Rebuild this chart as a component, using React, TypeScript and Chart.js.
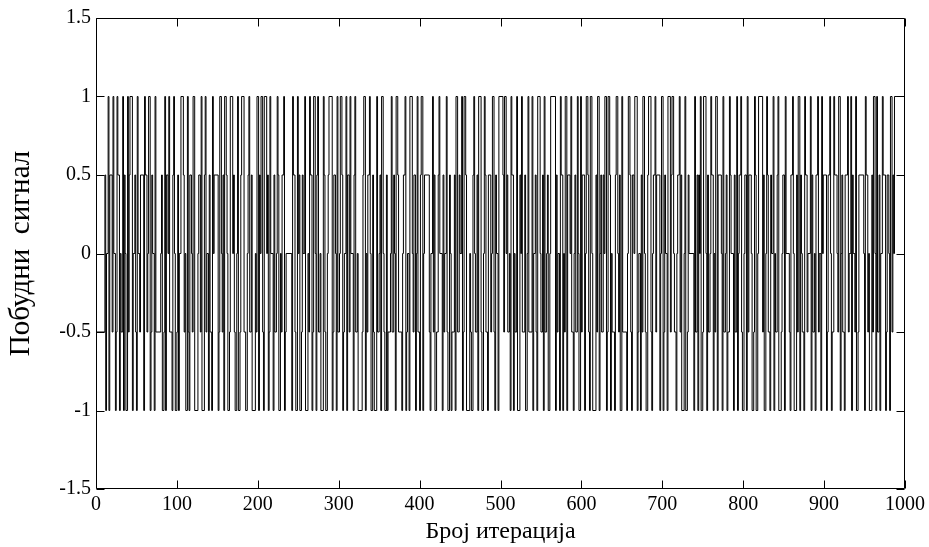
import React, { useEffect, useRef } from "react";
import { Chart, registerables } from "chart.js";

Chart.register(...registerables);

// Axis ticks and titles
const xTickValues = [0, 100, 200, 300, 400, 500, 600, 700, 800, 900, 1000];
const yTickValues = [-1.5, -1, -0.5, 0, 0.5, 1, 1.5];
const xAxisTitle = "Број итерација";
const yAxisTitle = "Побудни  сигнал";
const xMax = 1000;

// Excitation signal: level of each held segment
const levelsPart1 = [
  1, -0.5, 0.5, -1, 0, 1, -1, 0.5, -0.5, 1, 0, -1, -0.5, 1, 0.5, -1, 0, -0.5, 1, -1,
  0.5, 0, -1, 1, -0.5, 0.5, 1, -1, 0, 0.5, -0.5, -1, 1, 0, -0.5, 0.5, -1, 1, 0.5, -0.5,
  0, 1, -1, -0.5, 0.5, 0, -1, 1, -0.5, 0, 0.5, -1, -0.5, 1, -1, 0.5, 0, 1, -0.5, -1,
  0.5, 1, 0, -1, -0.5, 0.5, -1, 0, 1, 0.5, -0.5, 0, -1, 1, -0.5, -1, 0.5, 0, -0.5, 1,
  -1, 0, 0.5, -0.5, 1, -1, 0.5, 1, -0.5, 0, -1, 0.5, -0.5, -1, 1, 0, 0.5, -1, -0.5, 1,
  0, -0.5, 0.5, -1, 1, 0.5, 0, -1, -0.5, 1, 0, 0.5, -0.5, -1, 0, 1, -1, -0.5, 0.5, 1,
  -0.5, -1, 0, 0.5, 1, -0.5, 0.5, -1, 0, -0.5, 1, -1, 0.5, 0, 1, -0.5, -1, 1, 0, 0.5,
];
const levelsPart2 = [
  -1, -0.5, 1, 0, -1, 0.5, -0.5, 0, 1, 0.5, -1, 0, -0.5, 0.5, 1, -1, -0.5, 0, -1, 1,
  0.5, -0.5, -1, 1, 0, 0.5, -1, -0.5, 0.5, 0, 1, -1, 0, -0.5, 1, 0.5, -1, -0.5, 1, 0,
  -1, 0.5, 1, -0.5, 0, -1, 1, 0.5, -0.5, -1, 0, 0.5, 1, -1, -0.5, 0.5, 0, -1, 1, -0.5,
  0, 1, 0.5, -1, -0.5, 0, 1, -1, 0.5, -0.5, 1, 0, -1, 0.5, 1, -0.5, 0, -1, -0.5, 0.5,
  1, -1, 0, -0.5, 0.5, 1, 0, -1, 0.5, -0.5, -1, 1, -0.5, 0, 0.5, -1, 1, 0, -0.5, -1,
  0.5, -1, -0.5, 0, 1, -0.5, 0.5, 0, -1, 1, 0.5, -0.5, -1, 0, 0.5, 1, -1, -0.5, 0, -1,
];
const levelsPart3 = [
  1, 0, -0.5, 0.5, -1, 0, 1, -0.5, -1, 0.5, 1, -1, 0, 0.5, -0.5, -1, 0, 1, -0.5, 0.5,
  -1, -0.5, 0.5, 1, 0, -1, 0.5, -0.5, 0, 1, -0.5, -1, 0.5, 0, -1, -0.5, 0.5, -1, 1, -0.5,
  -0.5, 0.5, 0, 1, -1, -0.5, 1, 0.5, -1, 0, -0.5, -1, 0.5, 1, 0, -0.5, 0.5, -1, 1, -0.5,
  -1, 0, 1, 0.5, -0.5, -1, 0.5, -0.5, 0, 1, -0.5, -1, 0.5, 0, -1, 1, 0.5, -0.5, 1, 0,
  0.5, -0.5, 0, -1, 1, 0.5, -1, 0, -0.5, 1, -1, 0.5, 0, 1, -0.5, -0.5, 0.5, -1, 0, 1,
  -0.5, 1, -1, 0, 0.5, -0.5, -1, 1, 0, -0.5, 0.5, -1, 1, -0.5, 0, 0.5, -1, 0, 1, -1,
];
const levelsPart4 = [
  0.5, -0.5, 0, -1, 1, 0.5, -1, 0, -0.5, 1, -1, 0.5, 0, 1, -0.5, -1, 0, 0.5, -0.5, 1,
  0, -1, 1, -0.5, 0.5, -1, 0, 1, 0.5, -0.5, -1, 1, 0, -1, 0.5, -0.5, 1, -1, 0, 0.5,
  -0.5, 0.5, 0, 1, -1, -0.5, 1, 0.5, -1, 0, -0.5, -1, 0.5, 1, 0, -0.5, 0.5, -1, 1, -0.5,
  -1, 0, 1, 0.5, -0.5, -1, 0.5, 0, 1, -1, -0.5, 0, -1, 0.5, -0.5, 1, 0, -0.5, -1, 0.5,
  1, -0.5, -1, 0, 0.5, 1, -0.5, 0.5, -1, 0, 1, -1, -0.5, 0.5, 0, -1, 1, -0.5, 0.5, 1,
];
const levelsPart5 = [
  0, -0.5, -1, 0, 0.5, 1, -0.5, 0.5, -1, 0, 1, -1, -0.5, 0.5, 0, -1, 1, -0.5, 0.5, -1,
  0.5, 0, 1, -1, -0.5, 1, 0, -1, 0.5, -0.5, 0, 1, 0.5, -1, 0, -0.5, 1, -1, 0.5, 0,
  -1, 1, -0.5, 0, 0.5, -1, -0.5, 1, 0.5, 0, -1, 0.5, -0.5, 1, -1, 0, 0.5, 1, -0.5, -1,
  0, 0.5, -1, 1, -0.5, 0.5, 0, -1, -0.5, 1, 0.5, -1, 0, 1, -0.5, 0.5, -1, 0, 1, 0.5,
  -0.5, -1, 0.5, 0, 1, -1, 0, -0.5, 0.5, 1, -1, -0.5, 0, 0.5, -1, 1, 0, -0.5, -1, 0.5,
  1, 0, -1, 0.5, -0.5, 1, -1, 0.5, 0, -0.5, -1, 1, 0.5, -0.5, 0, 1, -1, 0.5, -0.5, 0,
  -1, 0.5, 1, -0.5, 0, -1, 1, 0, 0.5, -1, -0.5, 0.5, 1, 0, -1, -0.5, 1, 0.5, 0, -0.5,
  1, -1, 0, 0.5, -0.5, -1, 0.5, 1, -0.5, 0, 1, -1, 0.5, 0, -0.5, 1, -1, -0.5, 0.5, 0,
  -1, 1, 0.5, -0.5, 0, -1, 0.5, -0.5, 1, 0, -1, 1, -0.5, 0.5, -1, 0, 1, 0.5, -1, -0.5,
  0.5, 0, -1, 1, -0.5, 0.5, 0, 1, -1, -0.5, 0.5, 1, 0, -1, 0.5, -0.5, 1, -1, 0, 0.5,
];

// Number of iterations each level is held
const lengthsPart1 = [
  11, 1, 1, 2, 1, 1, 3, 1, 1, 2, 1, 1, 1, 2, 1, 1, 2, 1, 1, 1,
  1, 2, 1, 1, 1, 3, 1, 2, 1, 1, 1, 1, 2, 1, 4, 1, 1, 2, 1, 1,
  2, 1, 1, 1, 2, 1, 1, 6, 1, 1, 2, 1, 1, 1, 2, 1, 1, 3, 1, 1,
  1, 1, 2, 1, 1, 1, 2, 3, 1, 1, 1, 2, 1, 1, 1, 2, 1, 1, 2, 4,
  1, 2, 1, 1, 3, 1, 1, 1, 2, 1, 1, 2, 1, 1, 1, 5, 1, 1, 2, 1,
  1, 1, 1, 2, 1, 1, 2, 1, 3, 1, 1, 1, 2, 1, 1, 2, 1, 1, 3, 2,
  2, 1, 1, 1, 2, 1, 4, 1, 1, 2, 1, 1, 1, 2, 1, 1, 3, 1, 1, 1,
  1, 1, 3, 1, 1, 2, 1, 1, 1, 2, 1, 1, 2, 1, 1, 1, 7, 1, 1, 2,
  1, 2, 1, 1, 1, 2, 1, 1, 2, 1, 3, 1, 1, 1, 2, 1, 1, 2, 1, 1,
];
const lengthsPart2 = [
  1, 1, 2, 1, 3, 1, 1, 1, 2, 1, 1, 4, 1, 1, 2, 1, 1, 1, 2, 1,
  2, 1, 1, 1, 2, 1, 1, 2, 1, 1, 3, 1, 1, 1, 2, 1, 5, 1, 1, 2,
  1, 1, 1, 2, 1, 1, 2, 1, 1, 3, 1, 2, 1, 1, 1, 2, 1, 1, 2, 1,
  1, 3, 1, 1, 2, 1, 1, 1, 2, 1, 4, 1, 1, 2, 1, 1, 1, 2, 1, 3,
  1, 1, 2, 1, 1, 1, 2, 1, 1, 2, 1, 1, 6, 1, 1, 2, 1, 1, 1, 2,
  2, 1, 1, 3, 1, 1, 1, 2, 1, 1, 2, 1, 1, 1, 3, 1, 1, 2, 1, 1,
  1, 2, 1, 1, 1, 2, 1, 4, 1, 1, 2, 1, 1, 1, 2, 1, 1, 3, 1, 2,
  1, 1, 1, 2, 1, 3, 1, 1, 2, 1, 1, 1, 2, 1, 5, 1, 1, 2, 1, 1,
  2, 1, 1, 1, 2, 1, 1, 2, 1, 3, 1, 1, 1, 2, 1, 1, 2, 1, 1, 4,
];
const lengthsPart3 = [
  1, 1, 2, 1, 1, 1, 3, 1, 2, 1, 1, 1, 2, 1, 1, 2, 1, 6, 1, 1,
  1, 2, 1, 1, 2, 1, 1, 1, 2, 1, 3, 1, 1, 2, 1, 1, 1, 2, 1, 1,
  2, 1, 1, 3, 1, 1, 2, 1, 1, 1, 2, 1, 4, 1, 1, 2, 1, 1, 1, 2,
  1, 1, 2, 1, 1, 2, 1, 1, 1, 3, 1, 1, 2, 1, 1, 1, 2, 1, 5, 1,
  1, 2, 1, 1, 1, 2, 1, 3, 1, 1, 2, 1, 1, 1, 2, 1, 1, 2, 1, 3,
  1, 1, 1, 2, 1, 1, 4, 1, 1, 2, 1, 1, 1, 2, 1, 3, 1, 1, 2, 1,
  2, 1, 1, 2, 1, 1, 1, 3, 1, 1, 2, 1, 1, 6, 1, 1, 2, 1, 1, 1,
  1, 1, 2, 1, 3, 1, 1, 1, 2, 1, 1, 2, 1, 1, 1, 2, 1, 4, 1, 1,
  1, 2, 1, 1, 1, 2, 1, 1, 3, 1, 1, 2, 1, 1, 1, 2, 1, 1, 2, 1,
];
const lengthsPart4 = [
  2, 1, 1, 1, 3, 1, 2, 1, 1, 1, 2, 1, 5, 1, 1, 2, 1, 1, 1, 2,
  1, 1, 2, 1, 1, 1, 2, 1, 1, 3, 1, 1, 2, 1, 1, 4, 1, 1, 2, 1,
  1, 3, 1, 1, 2, 1, 1, 1, 2, 1, 1, 2, 1, 3, 1, 1, 1, 2, 1, 1,
  2, 1, 1, 2, 1, 1, 1, 4, 1, 1, 2, 1, 1, 1, 2, 1, 3, 1, 1, 2,
  1, 1, 1, 2, 1, 3, 1, 1, 2, 1, 1, 1, 2, 1, 1, 2, 1, 6, 1, 1,
  1, 2, 1, 1, 3, 1, 1, 2, 1, 1, 1, 2, 1, 1, 2, 1, 3, 1, 1, 2,
  1, 1, 2, 1, 1, 1, 2, 12,
];

const FONT = "'Liberation Serif', 'Times New Roman', serif";

export default function App() {
  const canvasRef = useRef<HTMLCanvasElement | null>(null);

  useEffect(() => {
    document.body.style.margin = "0";
    const canvas = canvasRef.current;
    if (!canvas) return;

    const levels = [...levelsPart1, ...levelsPart2, ...levelsPart3, ...levelsPart4, ...levelsPart5];
    const lengths = [...lengthsPart1, ...lengthsPart2, ...lengthsPart3, ...lengthsPart4];
    const points: { x: number; y: number }[] = [];
    let it = 0;
    for (let i = 0; i < levels.length && i < lengths.length && it < xMax; i++) {
      points.push({ x: it, y: levels[i] });
      it += lengths[i];
    }
    points.push({ x: Math.min(it, xMax), y: points[points.length - 1].y });

    const boxPlugin = {
      id: "matlabBox",
      afterDatasetsDraw(chart: any) {
        const { ctx, chartArea: a, scales } = chart;
        const L = Math.round(a.left) + 0.5;
        const R = Math.round(a.right) - 0.5;
        const T = Math.round(a.top) + 0.5;
        const B = Math.round(a.bottom) - 0.5;
        const tl = 8;
        ctx.save();
        ctx.strokeStyle = "#000";
        ctx.lineWidth = 1;
        ctx.beginPath();
        ctx.rect(L, T, R - L, B - T);
        for (const v of xTickValues) {
          const px = Math.round(scales.x.getPixelForValue(v)) + 0.5;
          ctx.moveTo(px, B);
          ctx.lineTo(px, B - tl);
          ctx.moveTo(px, T);
          ctx.lineTo(px, T + tl);
        }
        for (const v of yTickValues) {
          const py = Math.round(scales.y.getPixelForValue(v)) + 0.5;
          ctx.moveTo(L, py);
          ctx.lineTo(L + tl, py);
          ctx.moveTo(R, py);
          ctx.lineTo(R - tl, py);
        }
        ctx.stroke();
        ctx.restore();
      },
    };

    const chart = new Chart(canvas, {
      type: "line",
      data: {
        datasets: [
          {
            data: points,
            borderColor: "#000",
            borderWidth: 1,
            pointRadius: 0,
            stepped: "after",
            fill: false,
          },
        ],
      },
      options: {
        responsive: false,
        animation: false,
        events: [],
        layout: { padding: { top: 18, right: 22, left: 0, bottom: 0 } },
        plugins: { legend: { display: false }, tooltip: { enabled: false } },
        scales: {
          x: {
            type: "linear",
            min: 0,
            max: xMax,
            afterFit: (s: any) => {
              s.height = 58;
            },
            afterBuildTicks: (s: any) => {
              s.ticks = xTickValues.map((v) => ({ value: v }));
            },
            ticks: {
              color: "#000",
              padding: 4,
              maxRotation: 0,
              autoSkip: false,
              font: { family: FONT, size: 20 },
              callback: (v: any) => String(v),
            },
            grid: { display: false, drawTicks: false },
            border: { display: false },
            title: {
              display: true,
              text: xAxisTitle,
              color: "#000",
              font: { family: FONT, size: 24 },
              padding: { top: 0, bottom: 1 },
            },
          },
          y: {
            type: "linear",
            min: -1.5,
            max: 1.5,
            afterFit: (s: any) => {
              s.width = 96;
            },
            afterBuildTicks: (s: any) => {
              s.ticks = yTickValues.map((v) => ({ value: v }));
            },
            ticks: {
              color: "#000",
              padding: 5,
              autoSkip: false,
              font: { family: FONT, size: 20 },
              callback: (v: any) => String(v),
            },
            grid: { display: false, drawTicks: false },
            border: { display: false },
            title: {
              display: true,
              text: yAxisTitle,
              color: "#000",
              font: { family: FONT, size: 29 },
              padding: { top: 4, bottom: 0 },
            },
          },
        },
      },
      plugins: [boxPlugin],
    });

    return () => chart.destroy();
  }, []);

  return (
    <div style={{ position: "absolute", left: 0, top: 0, width: 929, height: 547, background: "#fff" }}>
      <canvas ref={canvasRef} width={929} height={547} style={{ width: 929, height: 547, display: "block" }} />
    </div>
  );
}
